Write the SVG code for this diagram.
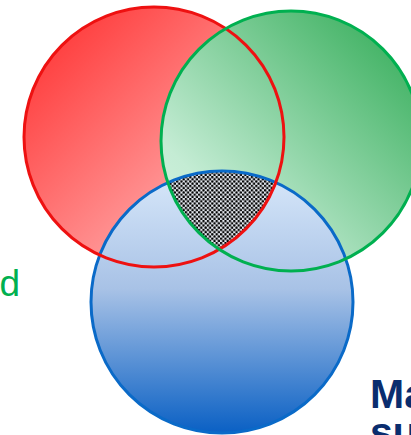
<svg xmlns="http://www.w3.org/2000/svg" width="411" height="435" viewBox="0 0 411 435">
<style>
.ring{fill:none;stroke-width:3}
</style>
<defs>
<linearGradient id="gRed" x1="0" y1="0" x2="1" y2="1">
<stop offset="0" stop-color="#ff2a2a"/>
<stop offset="0.75" stop-color="#ffa8a8"/>
<stop offset="1" stop-color="#ffc0c0"/>
</linearGradient>
<linearGradient id="gGreen" x1="1" y1="0" x2="0" y2="1">
<stop offset="0" stop-color="#2aa850"/>
<stop offset="0.75" stop-color="#c4ecd4"/>
<stop offset="1" stop-color="#d8f4e4"/>
</linearGradient>
<linearGradient id="gBlue" x1="0" y1="0" x2="0" y2="1">
<stop offset="0" stop-color="#d8e8fa"/>
<stop offset="0.45" stop-color="#a8c2e6"/>
<stop offset="1" stop-color="#0a60c4"/>
</linearGradient>
<pattern id="dots" width="4.4" height="4.4" patternUnits="userSpaceOnUse">
<rect width="4.4" height="4.4" fill="#e4e8ee"/>
<circle cx="1.1" cy="1.1" r="1.25" fill="#000"/>
<circle cx="3.3" cy="3.3" r="1.25" fill="#000"/>
</pattern>
<clipPath id="cRed"><circle cx="154" cy="137" r="130"/></clipPath>
<clipPath id="cGreen"><circle cx="291" cy="141" r="130"/></clipPath>
</defs>
<g id="fills">
<circle id="red-fill" cx="154" cy="137" r="130" fill="url(#gRed)"/>
<circle id="green-fill" cx="291" cy="141" r="130" fill="url(#gGreen)"/>
<circle id="blue-fill" cx="222" cy="302" r="131" fill="url(#gBlue)"/>
<g clip-path="url(#cRed)">
<g clip-path="url(#cGreen)">
<circle id="triple" cx="222" cy="302" r="131" fill="url(#dots)"/>
</g>
</g>
</g>
<g id="outlines">
<circle id="blue" class="ring" cx="222" cy="302" r="131" stroke="#0a6ac8"/>
<circle id="red" class="ring" cx="154" cy="137" r="130" stroke="#ee1111"/>
<circle id="green" class="ring" cx="291" cy="141" r="130" stroke="#00b050"/>
</g>
<g id="labels" font-family="Liberation Sans, Arial, sans-serif">
<text x="20" y="296" font-size="37" fill="#00b050" text-anchor="end">d</text>
<text x="370" y="408" font-size="41" font-weight="bold" fill="#0a2d6e">Ma</text>
<text x="370" y="446" font-size="41" font-weight="bold" fill="#0a2d6e">su</text>
</g>
</svg>
